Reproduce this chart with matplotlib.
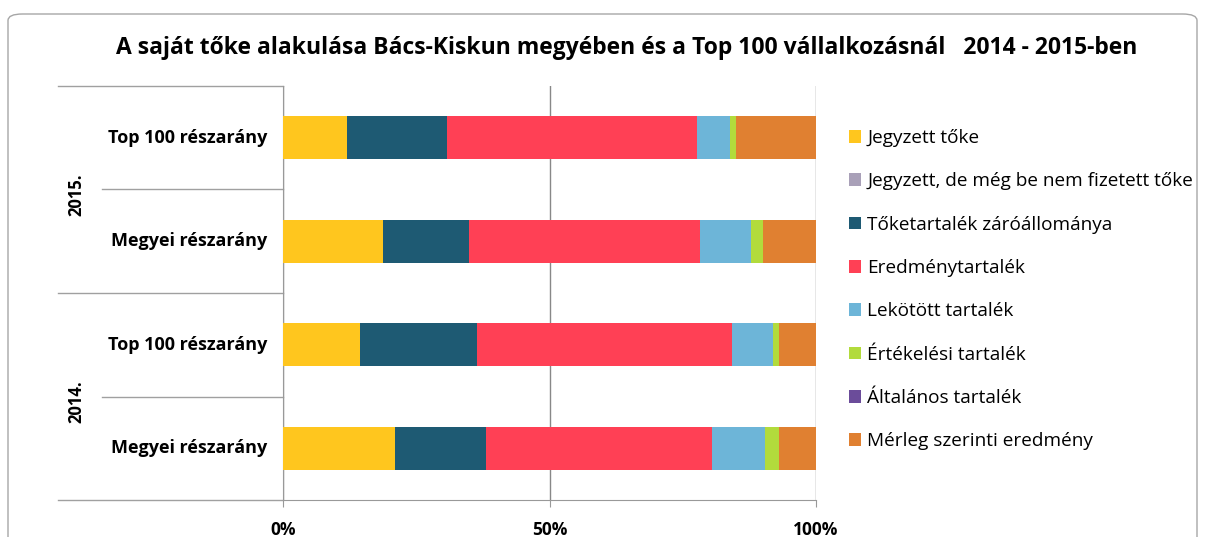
import matplotlib
matplotlib.use("Agg")
import matplotlib.pyplot as plt
from matplotlib.patches import FancyBboxPatch, Patch
import matplotlib.transforms as mtransforms

plt.rcParams['font.family'] = ['Open Sans', 'DejaVu Sans']

categories = ["Megyei részarány", "Top 100 részarány", "Megyei részarány", "Top 100 részarány"]
years = ["2014.", "2015."]
series_names = ["Jegyzett tőke", "Jegyzett, de még be nem fizetett tőke",
                "Tőketartalék záróállománya", "Eredménytartalék", "Lekötött tartalék",
                "Értékelési tartalék", "Általános tartalék", "Mérleg szerinti eredmény"]
# values in % for: Megyei 2014, Top100 2014, Megyei 2015, Top100 2015
jegyzett = [21.1, 14.5, 18.8, 12.1]
be_nem_fizetett = [0.0, 0.0, 0.0, 0.0]
toketartalek = [17.0, 21.9, 16.1, 18.6]
eredmenytartalek = [42.4, 47.9, 43.3, 47.0]
lekotott = [10.0, 7.6, 9.6, 6.2]
ertekelesi = [2.5, 1.1, 2.2, 1.1]
altalanos = [0.0, 0.0, 0.0, 0.0]
merleg = [7.0, 7.0, 10.0, 15.0]

series = [jegyzett, be_nem_fizetett, toketartalek, eredmenytartalek,
          lekotott, ertekelesi, altalanos, merleg]
colors = ["#FFC61E", "#A9A0B8", "#1E5A73", "#FF4055", "#6DB5D8",
          "#B2DB3C", "#6B4C9A", "#E08031"]

W, H = 1205, 537
fig = plt.figure(figsize=(W / 100, H / 100), dpi=100)

# outer rounded frame (top edge at 14 px from the top, bottom below the canvas)
frame = FancyBboxPatch((8 / W, -30 / H), 1189 / W, (H - 14 + 30) / H,
                       boxstyle="round,pad=0,rounding_size=0.012",
                       transform=fig.transFigure, facecolor="none",
                       edgecolor="#A6A6A6", linewidth=1.0, zorder=0)
fig.patches.append(frame)

left, right = 283 / W, 816 / W
bottom, top = 1 - 500 / H, 1 - 86 / H
ax = fig.add_axes([left, bottom, right - left, top - bottom])
ax.set_facecolor("none")

ypos = list(range(len(categories)))
lefts = [0.0] * len(categories)
totals = [sum(s[i] for s in series) for i in range(len(categories))]
for vals, col in zip(series, colors):
    fracs = [v / t * 100 for v, t in zip(vals, totals)]
    ax.barh(ypos, fracs, left=lefts, height=0.42, color=col, edgecolor="none", zorder=3)
    lefts = [l + f for l, f in zip(lefts, fracs)]

ax.set_xlim(0, 100)
ax.set_ylim(-0.5, len(categories) - 0.5)
ax.set_xticks([0, 50, 100])
ax.set_xticklabels(["0%", "50%", "100%"], fontsize=12.5, fontweight="bold")
ax.tick_params(axis="x", length=5, color="#999999", pad=10)
ax.set_yticks([])
for s in ["top", "right"]:
    ax.spines[s].set_visible(False)
for s in ["left", "bottom"]:
    ax.spines[s].set_color("#999999")
ax.grid(axis="x", color="#888888", linewidth=1.0, zorder=0)

trans = mtransforms.blended_transform_factory(ax.transAxes, ax.transData)
outer_x = (58 / W - left) / (right - left)
inner_x = (102 / W - left) / (right - left)
for yb in [-0.5, 1.5, 3.5]:
    ax.plot([outer_x, 0], [yb, yb], transform=trans, color="#A0A0A0", lw=1.0, clip_on=False)
for yb in [0.5, 2.5]:
    ax.plot([inner_x, 0], [yb, yb], transform=trans, color="#A0A0A0", lw=1.0, clip_on=False)

lab_x = (267 / W - left) / (right - left)
for y, c in zip(ypos, categories):
    ax.text(lab_x, y, c, transform=trans, ha="right", va="center",
            fontsize=13, fontweight="bold")
year_x = (76 / W - left) / (right - left)
for i, yr in enumerate(years):
    ax.text(year_x, 2 * i + 0.45, yr, transform=trans, ha="center", va="center",
            rotation=90, fontsize=12, fontweight="bold")

fig.text(627 / W, 1 - 48 / H,
         "A saját tőke alakulása Bács-Kiskun megyében és a Top 100 vállalkozásnál   2014 - 2015-ben",
         ha="center", va="center", fontsize=16.5, fontweight="bold")

handles = [Patch(facecolor=c, edgecolor="none") for c in colors]
fig.legend(handles, series_names, loc="upper left", bbox_to_anchor=(849 / W, 1 - 129 / H),
           frameon=False, fontsize=13.7, handlelength=0.65, handleheight=0.65,
           handletextpad=0.3, labelspacing=1.33, borderaxespad=0, borderpad=0)

fig.savefig("out.png", dpi=100)
